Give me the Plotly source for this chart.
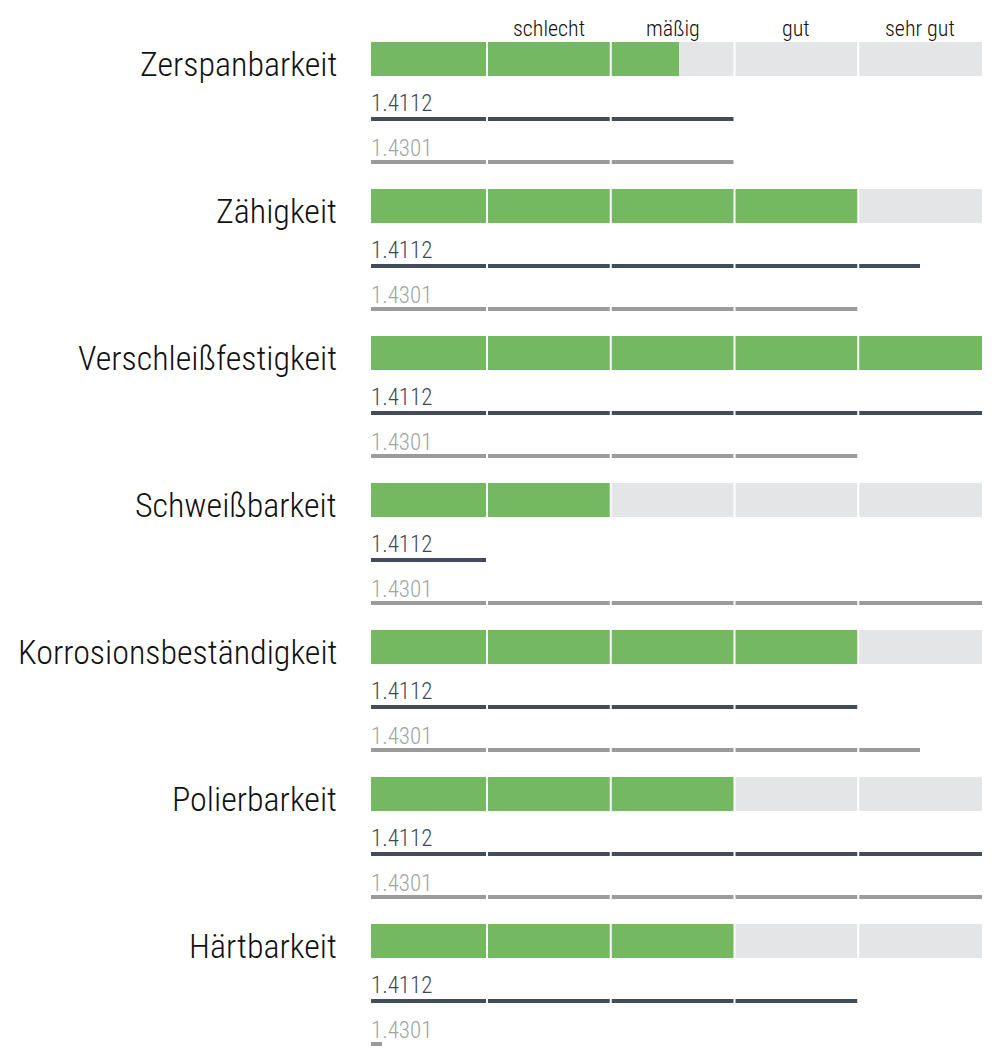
import plotly.graph_objects as go

# ---------------- data ----------------
properties = [
    "Zerspanbarkeit",
    "Zähigkeit",
    "Verschleißfestigkeit",
    "Schweißbarkeit",
    "Korrosionsbeständigkeit",
    "Polierbarkeit",
    "Härtbarkeit",
]
main_values = [2.55, 4, 5, 2, 4, 3, 3]          # green bars
values_14112 = [3, 4.5, 5, 1, 4, 5, 4]           # dark line
values_14301 = [3, 4, 4, 5, 4.5, 5, 0.15]        # grey line
material_names = ["1.4112", "1.4301"]
grade_labels = ["schlecht", "mäßig", "gut", "sehr gut"]
grade_centers = [1.5, 2.5, 3.5, 4.5]
segment_borders = [1, 2, 3, 4]
SCALE_MAX = 5

# ---------------- style / layout constants ----------------
PAGE_OFF = 8                              # default body margin of the html page
W, H = 1000 - PAGE_OFF, 1057 - PAGE_OFF   # figure size in pixels
X0_PX, UNIT_PX = 363.25 - PAGE_OFF, 123.75
BAR_START = 0.063
GROUP_TOP0, GROUP_STEP = 42 - PAGE_OFF, 147
BAR_H = 34
LINE1_OFF, LINE2_OFF = 77, 119.5
LINE_W = 4
LABEL_X_PX = 338 - PAGE_OFF
MAT_X_PX = 370 - PAGE_OFF

GREEN = "#74b962"
BG_GREY = "#e4e5e7"
DARK = "#434c5a"
DARK_TXT = "#3e4757"
LGREY = "#9b9b9b"
LGREY_TXT = "#a3a3a3"
FONT = "Roboto Condensed, Liberation Sans Narrow, DejaVu Sans Condensed, sans-serif"

x_range = [-X0_PX / UNIT_PX, (W - X0_PX) / UNIT_PX]

tops = [GROUP_TOP0 + i * GROUP_STEP for i in range(len(properties))]
bar_c = [t + BAR_H / 2 for t in tops]
l1_c = [t + LINE1_OFF for t in tops]
l2_c = [t + LINE2_OFF for t in tops]

fig = go.Figure()

# grey background bars
fig.add_trace(go.Bar(
    orientation="h", y=bar_c, x=[SCALE_MAX - BAR_START] * len(properties),
    base=BAR_START, width=BAR_H, marker=dict(color=BG_GREY, line=dict(width=0)),
    hoverinfo="skip", showlegend=False))
# green bars
fig.add_trace(go.Bar(
    orientation="h", y=bar_c, x=[v - BAR_START for v in main_values],
    base=BAR_START, width=BAR_H, marker=dict(color=GREEN, line=dict(width=0)),
    name="Werkstoff", showlegend=False))
# 1.4112 lines
fig.add_trace(go.Bar(
    orientation="h", y=l1_c, x=[v - BAR_START for v in values_14112],
    base=BAR_START, width=LINE_W, marker=dict(color=DARK, line=dict(width=0)),
    name=material_names[0], showlegend=False))
# 1.4301 lines
fig.add_trace(go.Bar(
    orientation="h", y=l2_c, x=[v - BAR_START for v in values_14301],
    base=BAR_START, width=LINE_W, marker=dict(color=LGREY, line=dict(width=0)),
    name=material_names[1], showlegend=False))

# white segment separators
sx, sy = [], []
for t in tops:
    for b in segment_borders:
        sx += [b, b, None]
        sy += [t - 1, t + LINE2_OFF + LINE_W, None]
fig.add_trace(go.Scatter(x=sx, y=sy, mode="lines",
                         line=dict(color="white", width=2),
                         hoverinfo="skip", showlegend=False))

annotations = []
for i, p in enumerate(properties):
    annotations.append(dict(
        text=p, xref="paper", x=LABEL_X_PX / W, xanchor="right",
        yref="y", y=tops[i] + 22, yanchor="middle", showarrow=False, borderpad=0,
        font=dict(family=FONT, size=34, weight=300, color="#111111")))
    annotations.append(dict(
        text=material_names[0], xref="paper", x=MAT_X_PX / W, xanchor="left",
        yref="y", y=tops[i] + 61, yanchor="middle", showarrow=False, borderpad=0,
        font=dict(family=FONT, size=23, weight=300, color=DARK_TXT)))
    annotations.append(dict(
        text=material_names[1], xref="paper", x=MAT_X_PX / W, xanchor="left",
        yref="y", y=tops[i] + 106, yanchor="middle", showarrow=False, borderpad=0,
        font=dict(family=FONT, size=23, weight=300, color=LGREY_TXT)))
for g, c in zip(grade_labels, grade_centers):
    annotations.append(dict(
        text=g, xref="x", x=c, xanchor="center",
        yref="y", y=28 - PAGE_OFF, yanchor="middle", showarrow=False, borderpad=0,
        font=dict(family=FONT, size=22, weight=300, color="#111111")))

fig.update_layout(
    width=W, height=H,
    margin=dict(l=0, r=0, t=0, b=0),
    paper_bgcolor="white", plot_bgcolor="white",
    barmode="overlay", bargap=0,
    xaxis=dict(range=x_range, visible=False, fixedrange=True),
    yaxis=dict(range=[H, 0], visible=False, fixedrange=True),
    annotations=annotations,
    font=dict(family=FONT),
)

fig.write_html("out.html")
